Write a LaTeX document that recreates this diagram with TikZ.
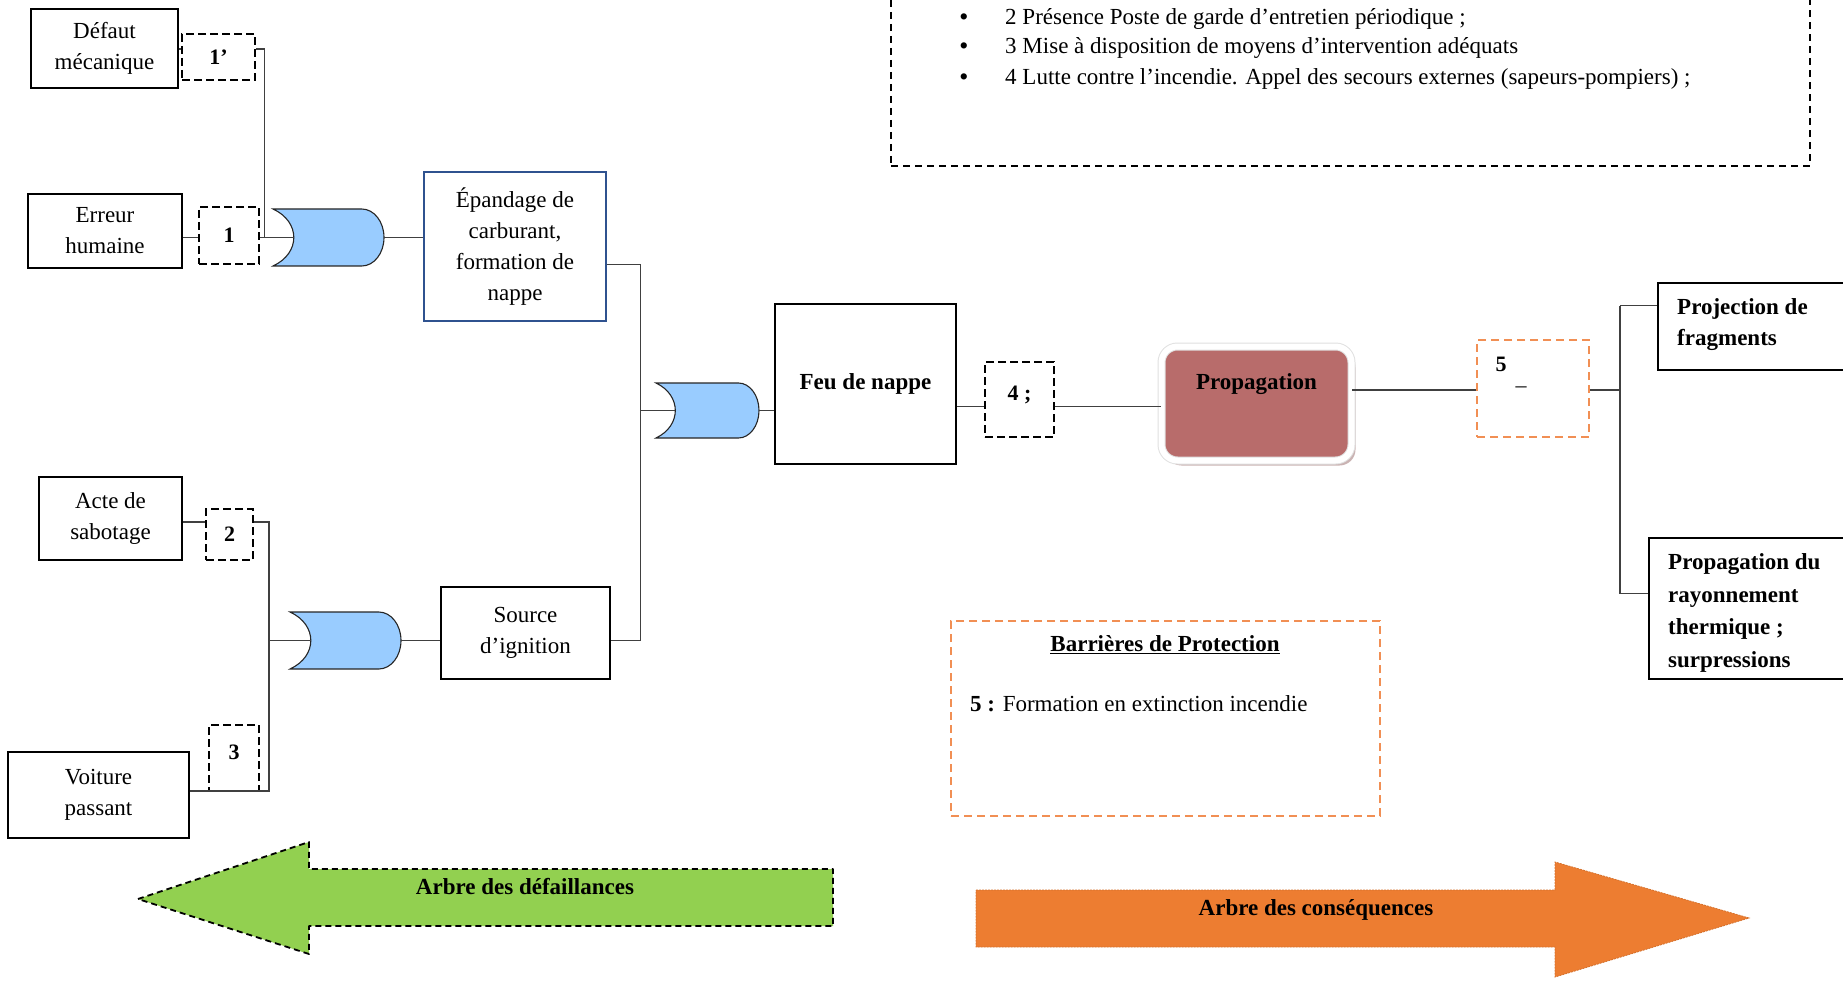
\documentclass[tikz,border=0pt]{standalone}
\usepackage{fontspec}
\setmainfont{Liberation Serif}
\usetikzlibrary{shadows,calc}
\definecolor{gateblue}{HTML}{99CCFF}
\definecolor{epblue}{RGB}{47,82,143}
\definecolor{propcol}{RGB}{184,108,107}
\definecolor{barrorange}{RGB}{241,143,84}
\definecolor{arrgreen}{HTML}{92D050}
\definecolor{arrorange}{HTML}{ED7D31}
\newcommand\ORgate[5]{%
 \pgfmathsetmacro\ogW{#4-#2}%
 \pgfmathsetmacro\ogM{(#3+#5)/2}%
 \pgfmathsetmacro\ogA{#4-0.2*\ogW}%
 \pgfmathsetmacro\ogR{#4-\ogA}%
 \pgfmathsetmacro\ogK{\ogA+0.552*\ogR}%
 \pgfmathsetmacro\ogH{(#5-#3)/2}%
 \pgfmathsetmacro\ogU{\ogM-0.552*\ogH}%
 \pgfmathsetmacro\ogD{\ogM+0.552*\ogH}%
 \pgfmathsetmacro\ogC{#2+0.25*\ogW}%
 \pgfmathsetmacro\ogI{#2+0.1875*\ogW}%
 \draw[gatestyle] (#2,#3) -- (\ogA,#3) .. controls (\ogK,#3) and (#4,\ogU) .. (#4,\ogM) .. controls (#4,\ogD) and (\ogK,#5) .. (\ogA,#5) -- (#2,#5) .. controls (\ogC,\ogD) and (\ogC,\ogU) .. (#2,#3) -- cycle;
 \coordinate (#1-in) at (\ogI,\ogM);
 \coordinate (#1-out) at (#4,\ogM);
}
\tikzset{
 txt/.style={font=\fontsize{23}{31}\selectfont},
 box/.style={txt, draw=black, line width=1.2, fill=white, align=center, inner sep=0pt},
 dbox/.style={txt, draw=black, line width=1.6, dash pattern=on 8pt off 4pt, fill=white, inner sep=0pt, font=\fontsize{22}{28}\selectfont\bfseries},
 obox/.style={draw=barrorange, line width=1.7, dash pattern=on 8pt off 5pt, inner sep=0pt},
 gatestyle/.style={draw=black!85, line width=1.1, fill=gateblue},
 conn/.style={draw=black!75, line width=1.5},
 propbox/.style={fill=propcol, draw=black!12, line width=1, double=white, double distance=6pt, rounded corners=16pt, drop shadow={shadow xshift=4pt, shadow yshift=-5pt, fill=propcol!55!gray, opacity=0.55}},
}
\begin{document}
\begin{tikzpicture}[x=1pt,y=-1pt]
\useasboundingbox (0,0) rectangle (1843,981);
\clip (0,0) rectangle (1843,981);

% ---- top dashed box with bullets
\node[draw=black, line width=1.6, dash pattern=on 7pt off 5pt, minimum width=919, minimum height=196, inner sep=0pt] (topbox) at (1350.5,68) {};
\node[txt, font=\fontsize{23}{31}\selectfont\bfseries] (bul2) at (964,19) {\textbullet};
\node[txt, anchor=west, inner sep=0pt] (l2) at (1005,19) {2 Présence Poste de garde d’entretien périodique ;};
\node[txt, font=\fontsize{23}{31}\selectfont\bfseries] (bul3) at (964,48) {\textbullet};
\node[txt, anchor=west, inner sep=0pt] (l3) at (1005,48) {3 Mise à disposition de moyens d’intervention adéquats};
\node[txt, font=\fontsize{23}{31}\selectfont\bfseries] (bul4) at (964,79) {\textbullet};
\node[txt, anchor=west, inner sep=0pt] (l4) at (1005,79) {4 Lutte contre l’incendie. Appel des secours externes (sapeurs-pompiers) ;};

% ---- left upper branch
\node[box, minimum width=147, minimum height=79] (defaut) at (104.5,48.5) {Défaut\\mécanique};
\node[dbox, minimum width=73, minimum height=46] (b1p) at (218.5,57) {1’};
\node[box, minimum width=154, minimum height=74] (erreur) at (105,231) {Erreur\\humaine};
\node[dbox, minimum width=60, minimum height=57] (b1) at (229,235.5) {1};
\ORgate{g1}{273}{209}{384}{266}
\node[box, draw=epblue, minimum width=182, minimum height=149] (epandage) at (515,246.5) {Épandage de\\carburant,\\formation de\\nappe};

\coordinate (j1) at (264.5,49);
\draw[conn] (defaut.east |- j1) -- (b1p.west |- j1);
\draw[conn] (b1p.east |- j1) -- (j1) -- (j1 |- g1-in) -- (g1-in);
\draw[conn] (erreur.east |- g1-in) -- (b1.west |- g1-in);
\draw[conn] (b1.east |- g1-in) -- (g1-in);
\draw[conn] (g1-out) -- (g1-out -| epandage.west);

% ---- left lower branch
\node[box, minimum width=143, minimum height=83] (acte) at (110.5,518.5) {Acte de\\sabotage};
\node[dbox, minimum width=47, minimum height=51] (b2) at (229.5,534.5) {2};
\node[box, minimum width=181, minimum height=86] (voiture) at (98.5,795) {Voiture\\passant};
\node[dbox, minimum width=50, minimum height=66] (b3) at (234,758) {\raisebox{12pt}{3}};
\ORgate{g3}{290}{612}{401}{669}
\node[box, minimum width=169, minimum height=92] (source) at (525.5,633) {Source\\d’ignition};

\coordinate (j2a) at (269,522);
\coordinate (j2b) at (269,791);
\draw[conn] (acte.east |- j2a) -- (b2.west |- j2a);
\draw[conn] (b2.east |- j2a) -- (j2a) -- (j2b) -- (voiture.east |- j2b);
\draw[conn] (j2a |- g3-in) -- (g3-in);
\draw[conn] (g3-out) -- (g3-out -| source.west);

% ---- middle
\ORgate{g2}{656}{383}{759}{438}
\node[box, minimum width=181, minimum height=160, font=\fontsize{23}{31}\selectfont\bfseries] (feu) at (865.5,384) {Feu de nappe};
\coordinate (t1) at (640.6,264.5);
\coordinate (t2) at (640.6,640.6);
\draw[conn] (epandage.east |- t1) -- (t1) -- (t2) -- (source.east |- t2);
\draw[conn] (t1 |- g2-in) -- (g2-in);
\draw[conn] (g2-out) -- (g2-out -| feu.west);

\node[dbox, minimum width=69, minimum height=75] (b4) at (1019.5,399.5) {\raisebox{12pt}{4 ;}};
\node[propbox, minimum width=190, minimum height=114] (prop) at (1256.5,403.5) {};
\node[txt, font=\fontsize{23}{31}\selectfont\bfseries] (proptxt) at (1256.5,384) {Propagation};
\coordinate (y4) at (0,406.7);
\draw[conn] (feu.east |- y4) -- (b4.west |- y4);
\draw[conn] (b4.east |- y4) -- (prop.west |- y4);

% ---- right
\node[obox, minimum width=112, minimum height=97] (b5) at (1533,388.5) {};
\node[txt, font=\fontsize{22}{28}\selectfont\bfseries] (b5n) at (1501,364) {5};
\node[txt, font=\fontsize{22}{28}\selectfont] (b5d) at (1521,390) {–};
\coordinate (y5) at (0,390);
\draw[conn] (prop.east |- y5) -- (b5.west |- y5);
\coordinate (br1) at (1620,305.6);
\coordinate (br2) at (1620,593.6);
\node[box, minimum width=192, minimum height=87] (proj) at (1754,326.5) {};
\node[txt, anchor=west, align=left, inner sep=0pt, font=\fontsize{23}{31}\selectfont\bfseries] (projtxt) at (1677,324.5) {Projection de\\fragments};
\node[box, minimum width=201, minimum height=141] (prop2) at (1749.5,608.5) {};
\node[txt, anchor=west, align=left, inner sep=0pt, font=\fontsize{23}{32.5}\selectfont\bfseries] (prop2txt) at (1668,613) {Propagation du\\rayonnement\\thermique ;\\surpressions};
\draw[conn] (b5.east |- y5) -- (br1 |- y5);
\draw[conn] (br1) -- (br2);
\draw[conn] (br1) -- (proj.west |- br1);
\draw[conn] (br2) -- (prop2.west |- br2);

% ---- barrières
\node[obox, minimum width=429, minimum height=195] (barr) at (1165.5,718.5) {};
\node[txt, font=\fontsize{23}{31}\selectfont\bfseries] (barrt) at (1165,645) {\underline{Barrières de Protection}};
\node[txt, anchor=west, inner sep=0pt] (barr5) at (970,704) {\textbf{5 :} Formation en extinction incendie};

% ---- arrows
\draw[fill=arrgreen, draw=black, line width=1.8, dash pattern=on 6pt off 4pt, line join=round] (138,899) -- (309,842) -- (309,869) -- (833,869) -- (833,926) -- (309,926) -- (309,954) -- cycle;
\node[txt, font=\fontsize{23}{31}\selectfont\bfseries] (agreen) at (525,887) {Arbre des défaillances};
\draw[fill=arrorange, draw=arrorange!90!black, line width=0.8, dash pattern=on 2pt off 1pt] (976,890) -- (1555,890) -- (1555,862) -- (1749,918) -- (1555,977) -- (1555,947) -- (976,947) -- cycle;
\node[txt, font=\fontsize{23}{31}\selectfont\bfseries] (aorange) at (1316,910) {Arbre des conséquences};
\end{tikzpicture}
\end{document}
